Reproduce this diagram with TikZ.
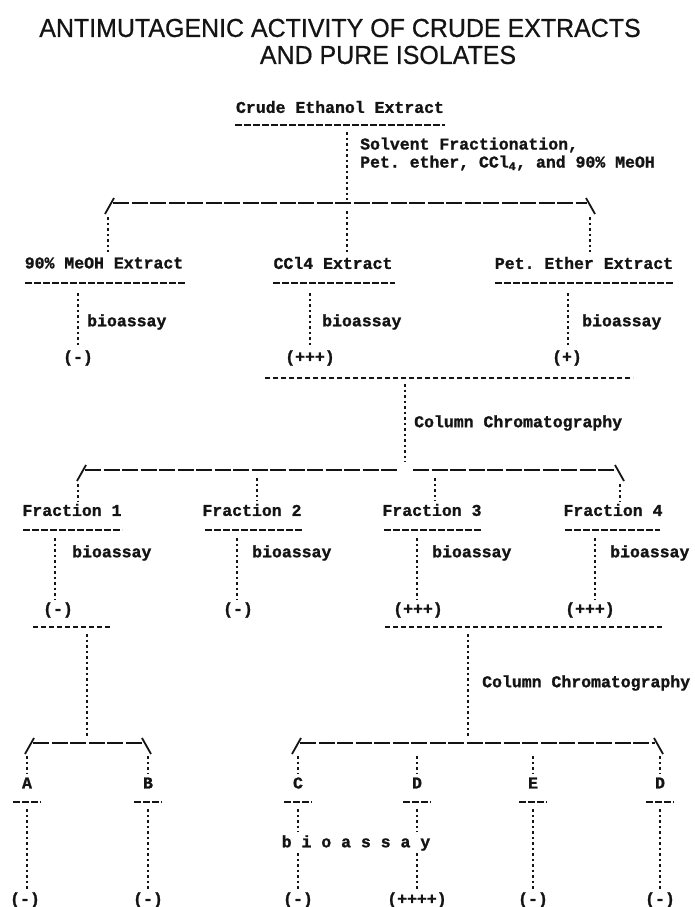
\documentclass[tikz,border=0pt]{standalone}
\usepackage{fontspec}
\usepackage{graphicx}
\setmainfont{Liberation Sans}[FakeBold=0.6]
\newfontfamily\twfont{Liberation Mono}[BoldFeatures={FakeBold=1.2}]
\definecolor{ink}{RGB}{20,20,20}
\begin{document}
\frenchspacing
\begin{tikzpicture}[x=1pt,y=-1pt,
  tw/.style={font=\twfont\bfseries\frenchspacing\fontsize{16.5}{18}\selectfont, inner sep=0pt, text=ink},
  ttl/.style={font=\fontsize{26}{28}\selectfont, inner sep=0pt, text=ink},
  vdot/.style={draw=ink, line width=1.6pt, dash pattern=on 2.5pt off 3pt},
  uline/.style={draw=ink, line width=1.5pt, dash pattern=on 7pt off 2pt},
  bline/.style={draw=ink, line width=1.8pt, dash pattern=on 16pt off 2.5pt},
  sepline/.style={draw=ink, line width=1.4pt, dash pattern=on 5pt off 3pt},
  slash/.style={draw=ink, line width=1.8pt}]
\useasboundingbox[fill=white] (0,0) rectangle (695,907);

% title
\node[ttl] (title1) at (340,28) {\scalebox{0.96}[1]{ANTIMUTAGENIC ACTIVITY OF CRUDE EXTRACTS}};
\node[ttl] (title2) at (388,55) {\scalebox{0.96}[1]{AND PURE ISOLATES}};

% stage 1
\node[tw] (crude) at (340,107) {Crude Ethanol Extract};
\draw[uline] (235,125) -- (445,125);
\coordinate (c1top) at (347,132);
\coordinate (b1m) at (347,200);
\draw[vdot] (c1top) -- (b1m);
\node[tw, anchor=west] (solv1) at (360,145) {Solvent Fractionation,};
\node[tw, anchor=west] (solv2) at (360,163) {Pet. ether, CCl\textsubscript{4}, and 90\% MeOH};

\coordinate (b1l) at (113,203);
\coordinate (b1r) at (587,203);
\draw[bline] (b1l) -- (b1r);
\draw[slash] (114,198) -- (105,214);
\draw[slash] (586,198) -- (595,214);

\node[tw] (meoh) at (104,263) {90\% MeOH Extract};
\node[tw] (ccl) at (333,263) {CCl4 Extract};
\node[tw] (pet) at (584,263) {Pet. Ether Extract};
\coordinate (d1a) at (108,217);
\coordinate (d1b) at (347,211);
\coordinate (d1c) at (590,217);
\draw[vdot, shorten >=5pt] (d1a) -- (d1a |- meoh.north);
\draw[vdot, shorten >=5pt] (d1b) -- (d1b |- ccl.north);
\draw[vdot, shorten >=5pt] (d1c) -- (d1c |- pet.north);
\draw[uline] (25,283) -- (185,283);
\draw[uline] (273,283) -- (395,283);
\draw[uline] (495,283) -- (673,283);

\node[tw] (r1a) at (78,358) {(-)};
\node[tw] (r1b) at (310,358) {(+++)};
\node[tw] (r1c) at (567,358) {(+)};
\coordinate (e1a) at (78,293);
\coordinate (e1b) at (310,293);
\coordinate (e1c) at (568,293);
\draw[vdot, shorten >=3pt] (e1a) -- (e1a |- r1a.north);
\draw[vdot, shorten >=3pt] (e1b) -- (e1b |- r1b.north);
\draw[vdot, shorten >=3pt] (e1c) -- (e1c |- r1c.north);
\node[tw, anchor=west] (bio1a) at (87,322) {bioassay};
\node[tw, anchor=west] (bio1b) at (322,322) {bioassay};
\node[tw, anchor=west] (bio1c) at (582,322) {bioassay};
\draw[sepline] (265,378) -- (633,378);

% stage 2
\coordinate (s2top) at (405,384);
\coordinate (b2m) at (405,462);
\draw[vdot] (s2top) -- (b2m);
\node[tw, anchor=west] (col1) at (414,423) {Column Chromatography};
\draw[bline] (85,470) -- (398,470);
\draw[bline] (413,470) -- (616,470);
\draw[slash] (86,465) -- (77,481);
\draw[slash] (615,465) -- (624,481);

\node[tw] (f1) at (72,510) {Fraction 1};
\node[tw] (f2) at (252,510) {Fraction 2};
\node[tw] (f3) at (432,510) {Fraction 3};
\node[tw] (f4) at (613,510) {Fraction 4};
\coordinate (d2a) at (78,484);
\coordinate (d2b) at (257,478);
\coordinate (d2c) at (435,478);
\coordinate (d2d) at (620,484);
\draw[vdot, shorten >=3pt] (d2a) -- (d2a |- f1.north);
\draw[vdot, shorten >=3pt] (d2b) -- (d2b |- f2.north);
\draw[vdot, shorten >=3pt] (d2c) -- (d2c |- f3.north);
\draw[vdot, shorten >=3pt] (d2d) -- (d2d |- f4.north);
\draw[uline] (23,530) -- (122,530);
\draw[uline] (205,530) -- (302,530);
\draw[uline] (384,530) -- (481,530);
\draw[uline] (565,530) -- (660,530);

\node[tw] (r2a) at (58,610) {(-)};
\node[tw] (r2b) at (238,610) {(-)};
\node[tw] (r2c) at (418,610) {(+++)};
\node[tw] (r2d) at (590,610) {(+++)};
\coordinate (e2a) at (55,538);
\coordinate (e2b) at (237,538);
\coordinate (e2c) at (417,538);
\coordinate (e2d) at (595,538);
\draw[vdot, shorten >=3pt] (e2a) -- (e2a |- r2a.north);
\draw[vdot, shorten >=3pt] (e2b) -- (e2b |- r2b.north);
\draw[vdot, shorten >=3pt] (e2c) -- (e2c |- r2c.north);
\draw[vdot, shorten >=3pt] (e2d) -- (e2d |- r2d.north);
\node[tw, anchor=west] (bio2a) at (72,553) {bioassay};
\node[tw, anchor=west] (bio2b) at (252,553) {bioassay};
\node[tw, anchor=west] (bio2c) at (432,553) {bioassay};
\node[tw, anchor=west] (bio2d) at (610,553) {bioassay};
\draw[sepline] (33,627) -- (112,627);
\draw[sepline] (385,627) -- (662,627);

% stage 3
\coordinate (s3a) at (87,634);
\coordinate (b3a) at (87,738);
\coordinate (s3b) at (468,634);
\coordinate (b3b) at (468,738);
\draw[vdot] (s3a) -- (b3a);
\draw[vdot] (s3b) -- (b3b);
\node[tw, anchor=west] (col2) at (482,683) {Column Chromatography};

\draw[bline] (33,743) -- (143,743);
\draw[slash] (34,738) -- (25,754);
\draw[slash] (142,738) -- (151,754);
\draw[bline] (300,743) -- (655,743);
\draw[slash] (301,738) -- (292,754);
\draw[slash] (654,738) -- (663,754);

\node[tw] (pa) at (27,783) {A};
\node[tw] (pb) at (148,783) {B};
\node[tw] (pc) at (298,783) {C};
\node[tw] (pd) at (417,783) {D};
\node[tw] (pe) at (533,783) {E};
\node[tw] (pf) at (660,783) {D};
\foreach \n/\x in {a/27,b/148,c/298,d/417,e/533,f/660}{
  \coordinate (t3\n) at (\x,756);
  \draw[vdot, shorten >=3pt] (t3\n) -- (t3\n |- p\n.north);
  \draw[uline] (\x-14,802) -- (\x+14,802);
}
\node[tw] (bio3) at (356,843) {b i o a s s a y};

\node[tw] (r3a) at (25,900) {(-)};
\node[tw] (r3b) at (148,900) {(-)};
\node[tw] (r3c) at (298,900) {(-)};
\node[tw] (r3d) at (417,900) {(++++)};
\node[tw] (r3e) at (533,900) {(-)};
\node[tw] (r3f) at (660,900) {(-)};
\foreach \n/\x in {a/27,b/148,e/533,f/660}{
  \coordinate (u3\n) at (\x,809);
  \draw[vdot, shorten >=3pt] (u3\n) -- (u3\n |- r3\n.north);
}
\foreach \n/\x in {c/298,d/417}{
  \coordinate (u3\n) at (\x,809);
  \coordinate (w3\n) at (\x,853);
  \draw[vdot, shorten >=3pt] (u3\n) -- (u3\n |- bio3.north);
  \draw[vdot, shorten >=3pt] (w3\n) -- (w3\n |- r3\n.north);
}
\end{tikzpicture}
\end{document}
